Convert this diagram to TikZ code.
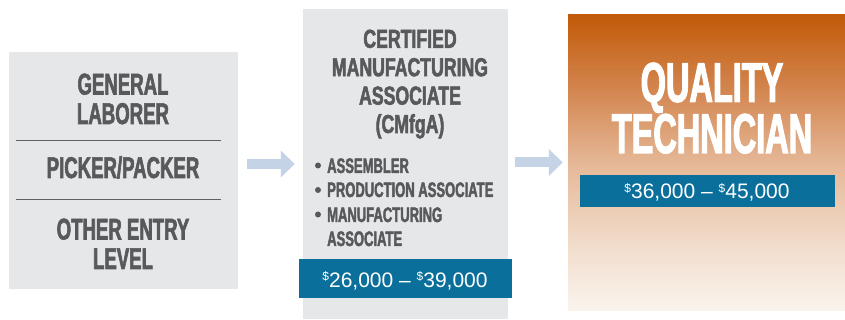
\documentclass[tikz,border=0pt]{standalone}
\usepackage{fontspec}
\setmainfont{Liberation Sans}
\newfontfamily\condA[FakeStretch=0.62, BoldFeatures={FakeBold=2}]{Liberation Sans}
\newfontfamily\condB[FakeStretch=0.68, BoldFeatures={FakeBold=2}]{Liberation Sans}
\newfontfamily\condC[FakeStretch=0.58, BoldFeatures={FakeBold=2}]{Liberation Sans}
\usetikzlibrary{arrows.meta}
\definecolor{boxgray}{HTML}{E6E7E9}
\definecolor{txtgray}{HTML}{58595B}
\definecolor{sepgray}{HTML}{5E5F61}
\definecolor{bandblue}{HTML}{0B6F9C}
\definecolor{arrowblue}{HTML}{C5D3E6}
\definecolor{gtop}{HTML}{C25A08}
\definecolor{gq}{HTML}{D3854F}
\definecolor{gmid}{HTML}{E5B796}
\definecolor{g3q}{HTML}{F0D9C6}
\definecolor{gbot}{HTML}{FAF4EE}
\pgfdeclareverticalshading{qtgrad}{100bp}{color(0bp)=(gbot); color(25bp)=(gbot); color(37.5bp)=(g3q); color(50bp)=(gmid); color(62.5bp)=(gq); color(75bp)=(gtop); color(100bp)=(gtop)}
\newcommand\mydollar{\raisebox{6.5pt}{\fontsize{12pt}{12pt}\selectfont\$}}
\begin{document}
\begin{tikzpicture}[x=1pt,y=-1pt,
  graybox/.style={fill=boxgray, draw=none, inner sep=0},
  lbl/.style={anchor=base, inner sep=0, align=center, text=txtgray, font=\condA\bfseries\fontsize{30pt}{29.5pt}\selectfont},
  ttl/.style={anchor=base, inner sep=0, align=center, text=txtgray, font=\condB\bfseries\fontsize{26pt}{28.4pt}\selectfont},
  item/.style={anchor=base west, inner sep=0, text=txtgray, font=\condA\bfseries\fontsize{21pt}{21pt}\selectfont},
  big/.style={anchor=base, inner sep=0, align=center, text=white, font=\condC\bfseries\fontsize{56pt}{48pt}\selectfont},
  band/.style={fill=bandblue, draw=none, inner sep=0},
  pay/.style={anchor=base, inner sep=0, text=white, font=\fontsize{21pt}{21pt}\selectfont},
  flow/.style={draw=arrowblue, line width=10pt, -{Triangle[length=14pt,width=26pt]}},
  sep/.style={draw=sepgray, line width=1pt}
]
\useasboundingbox (0,0) rectangle (845,320);
% boxes
\node[graybox, minimum width=229pt, minimum height=237pt] (lbox) at (123.5,170.5) {};
\node[graybox, minimum width=205pt, minimum height=310pt] (mbox) at (405.5,164) {};
\node[shade, shading=qtgrad, draw=none, inner sep=0, minimum width=277pt, minimum height=295pt] (rbox) at (706.5,162.5) {};
% left box text (base anchor = last line)
\node[lbl] (gen) at (123,124) {GENERAL\\LABORER};
\draw[sep] (16,141) -- (221,141);
\node[lbl] (pick) at (123,178) {PICKER/PACKER};
\draw[sep] (16,200) -- (221,200);
\node[lbl] (oth) at (123,269) {OTHER ENTRY\\LEVEL};
% middle box text
\node[ttl] (cert) at (410,133) {CERTIFIED\\MANUFACTURING\\ASSOCIATE\\(CMfgA)};
\fill[txtgray] (318,165.5) circle (3pt);
\fill[txtgray] (318,190) circle (3pt);
\fill[txtgray] (318,214.5) circle (3pt);
\node[item] (i1) at (327,173) {ASSEMBLER};
\node[item] (i2) at (327,197) {PRODUCTION ASSOCIATE};
\node[item] (i3) at (327,222) {MANUFACTURING};
\node[item] (i4) at (327,246) {ASSOCIATE};
\node[band, minimum width=213pt, minimum height=39pt] (mband) at (405.5,278.5) {};
\node[pay] (mpay) at (405,287) {\mydollar26,000 \textendash\ \mydollar39,000};
% right box text
\node[big] (qual) at (712,153) {QUALITY\\TECHNICIAN};
\node[band, minimum width=255pt, minimum height=32pt] (rband) at (707.5,191) {};
\node[pay] (rpay) at (707,199) {\mydollar36,000 \textendash\ \mydollar45,000};
% arrows
\draw[flow, shorten <=9pt, shorten >=8pt] (lbox.east |- mbox.west) -- (mbox.west);
\draw[flow, shorten <=7pt, shorten >=5pt] (mbox.east |- rbox.west) -- (rbox.west);
\end{tikzpicture}
\end{document}
